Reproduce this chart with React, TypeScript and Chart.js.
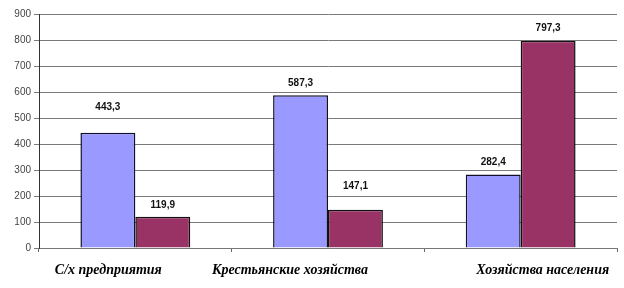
import React, { useEffect, useRef } from "react";
import { Chart, registerables } from "chart.js";

Chart.register(...registerables);

const categories = ["С/х предприятия", "Крестьянские хозяйства", "Хозяйства населения"];
const seriesA = [443.3, 587.3, 282.4];
const seriesB = [119.9, 147.1, 797.3];
const yTicks = [0, 100, 200, 300, 400, 500, 600, 700, 800, 900];

const fmt = (v: number) => v.toFixed(1).replace(".", ",");

export default function App() {
  const ref = useRef<HTMLCanvasElement | null>(null);
  useEffect(() => {
    if (!ref.current) return;
    const labelOffsets = [-27, -38, 22];
    const valueGaps = [
      [25, 12],
      [12, 24],
      [12, 12],
    ];
    const plugin = {
      id: "custom",
      afterDatasetsDraw(chart: any) {
        const ctx = chart.ctx;
        ctx.save();
        ctx.fillStyle = "#111";
        ctx.font = "bold 10px 'Liberation Sans', Arial, sans-serif";
        ctx.textAlign = "center";
        ctx.textBaseline = "middle";
        chart.data.datasets.forEach((ds: any, di: number) => {
          const meta = chart.getDatasetMeta(di);
          meta.data.forEach((bar: any, i: number) => {
            ctx.fillText(fmt(ds.data[i]), bar.x, bar.y - valueGaps[i][di]);
          });
        });
        const xs = chart.scales.x;
        ctx.font = "italic bold 14px 'Liberation Serif', 'DejaVu Serif', serif";
        ctx.fillStyle = "#000";
        categories.forEach((c, i) => {
          ctx.fillText(c, xs.getPixelForValue(i) + labelOffsets[i], 270);
        });
        ctx.restore();
      },
    };
    const chart = new Chart(ref.current, {
      type: "bar",
      data: {
        labels: categories,
        datasets: [
          {
            data: seriesA,
            backgroundColor: "#9999FF",
            borderColor: "#10102a",
            borderWidth: 1.5,
            barPercentage: 1,
            categoryPercentage: 0.57,
          },
          {
            data: seriesB,
            backgroundColor: "#993366",
            borderColor: "#111",
            borderWidth: 1.5,
            barPercentage: 1,
            categoryPercentage: 0.57,
          },
        ],
      },
      options: {
        animation: false,
        responsive: false,
        maintainAspectRatio: false,
        layout: { padding: { top: 14, right: 7, left: 0, bottom: 0 } },
        plugins: { legend: { display: false }, tooltip: { enabled: false } },
        scales: {
          x: {
            offset: true,
            ticks: { display: false },
            grid: {
              offset: true,
              drawOnChartArea: false,
              drawTicks: true,
              tickLength: 4,
              color: "#666",
            },
            border: { color: "#777", width: 1 },
            afterFit(scale: any) {
              scale.height = 40;
            },
          },
          y: {
            min: 0,
            max: 900,
            afterBuildTicks(scale: any) {
              scale.ticks = yTicks.map((v) => ({ value: v }));
            },
            ticks: {
              color: "#444",
              font: { family: "'Liberation Sans', Arial, sans-serif", size: 10 },
              padding: 3,
            },
            grid: { color: "#7a7a7a", tickLength: 5, lineWidth: 1 },
            border: { color: "#333", width: 1 },
            afterFit(scale: any) {
              scale.width = 39;
            },
          },
        },
      },
      plugins: [plugin],
    });
    return () => chart.destroy();
  }, []);
  return (
    <div style={{ position: "fixed", left: 0, top: 0, width: 624, height: 288, background: "#fff" }}>
      <canvas ref={ref} width={624} height={288} style={{ width: 624, height: 288 }} />
    </div>
  );
}
